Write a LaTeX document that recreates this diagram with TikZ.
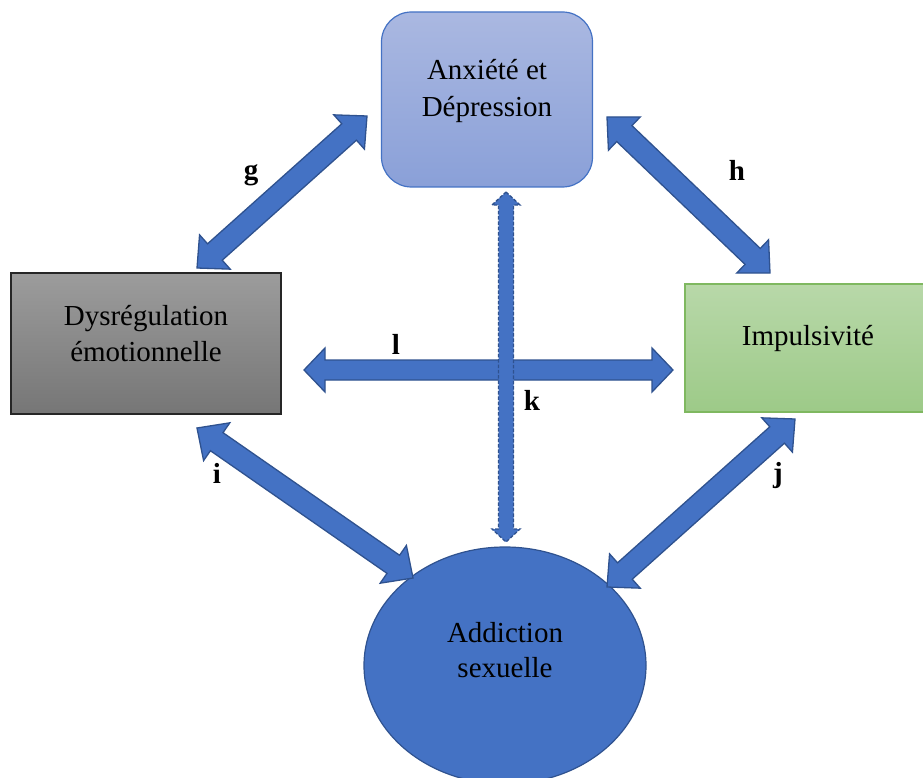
\documentclass[tikz,border=0pt]{standalone}
\usepackage{fontspec}
\setmainfont{Liberation Serif}
\usetikzlibrary{calc,shapes.geometric}

\definecolor{arrowfill}{HTML}{4472C4}
\definecolor{arrowline}{HTML}{2F528F}
\definecolor{anxtop}{HTML}{AAB8E1}
\definecolor{anxbot}{HTML}{8AA0D8}
\definecolor{dystop}{HTML}{9C9C9C}
\definecolor{dysbot}{HTML}{767676}
\definecolor{imptop}{HTML}{B8D8A9}
\definecolor{impbot}{HTML}{9DCA88}
\definecolor{impline}{HTML}{7FB860}

% Double-headed block arrow between two named points:
% #1 style, #2 first tip, #3 second tip, #4 shaft half width,
% #5 head half width, #6 head length
\newcommand{\blockarrow}[6]{%
  \path[#1] (#2)
    -- ($(#2)!#6!(#3)!#5!90:(#3)$)
    -- ($(#2)!#6!(#3)!#4!90:(#3)$)
    -- ($(#3)!#6!(#2)!#4!-90:(#2)$)
    -- ($(#3)!#6!(#2)!#5!-90:(#2)$)
    -- (#3)
    -- ($(#3)!#6!(#2)!#5!90:(#2)$)
    -- ($(#3)!#6!(#2)!#4!90:(#2)$)
    -- ($(#2)!#6!(#3)!#4!-90:(#3)$)
    -- ($(#2)!#6!(#3)!#5!-90:(#3)$)
    -- cycle;}

\tikzset{
  txt/.style={font=\fontsize{29}{35}\selectfont, anchor=base, inner sep=0pt},
  lbl/.style={font=\fontsize{29}{35}\selectfont\bfseries, anchor=base, inner sep=0pt},
  barrow/.style={fill=arrowfill, draw=arrowline, line width=1.3pt, line join=miter},
  dasharrow/.style={fill=arrowfill, draw=arrowline, line width=1.3pt, dash pattern=on 3.5pt off 1.8pt},
  box/.style={rectangle, inner sep=0pt},
}

\begin{document}
\begin{tikzpicture}[x=1pt,y=-1pt]
\useasboundingbox (0,0) rectangle (923,778);

% boxes
\node[box, rounded corners=30pt, minimum width=211pt, minimum height=175pt,
      top color=anxtop, bottom color=anxbot, draw=arrowfill, line width=1.2pt]
      (anx) at (487,99.5) {};
\node[box, minimum width=270pt, minimum height=141pt,
      top color=dystop, bottom color=dysbot, draw=black!85, line width=1.2pt]
      (dys) at (146,343.5) {};
\node[box, minimum width=250pt, minimum height=128pt,
      top color=imptop, bottom color=impbot, draw=impline, line width=1.2pt]
      (imp) at (810,348) {};
\node[ellipse, minimum width=282pt, minimum height=237pt, inner sep=0pt,
      fill=arrowfill, draw=arrowline, line width=1.2pt]
      (add) at (505,665.5) {};

% texts
\node[txt] (anxA) at (487,80) {Anxiété et};
\node[txt] (anxB) at (487,117) {Dépression};
\node[txt] (dysA) at (146,325) {Dysrégulation};
\node[txt] (dysB) at (146,361) {émotionnelle};
\node[txt] (impA) at (808,345) {Impulsivité};
\node[txt] (addA) at (505,642) {Addiction};
\node[txt] (addB) at (505,677) {sexuelle};

% arrow tips
\coordinate (g1) at (367,116);
\coordinate (g2) at (197,268);
\coordinate (h1) at (607,117);
\coordinate (h2) at (770,273);
\coordinate (i1) at (197,428);
\coordinate (i2) at (413,578);
\coordinate (j1) at (795,419);
\coordinate (j2) at (607,587);
\coordinate (l1) at (304,370);
\coordinate (l2) at (673,370);
\coordinate (k1) at (506,192);
\coordinate (k2) at (506,542);

% connectors
\blockarrow{barrow}{g1}{g2}{11pt}{23pt}{24pt}
\blockarrow{barrow}{h1}{h2}{11pt}{23pt}{24pt}
\blockarrow{barrow}{i1}{i2}{11pt}{23pt}{24pt}
\blockarrow{barrow}{j1}{j2}{11pt}{23pt}{24pt}
\blockarrow{barrow}{l1}{l2}{10pt}{22pt}{21pt}
\blockarrow{dasharrow}{k1}{k2}{7.5pt}{14pt}{13pt}

% labels
\node[lbl] (lg) at (251,180) {g};
\node[lbl] (lh) at (737,181) {h};
\node[lbl] (li) at (217,483) {i};
\node[lbl] (lj) at (778,482) {j};
\node[lbl] (lk) at (532,410) {k};
\node[lbl] (ll) at (396,354) {l};
\end{tikzpicture}
\end{document}
